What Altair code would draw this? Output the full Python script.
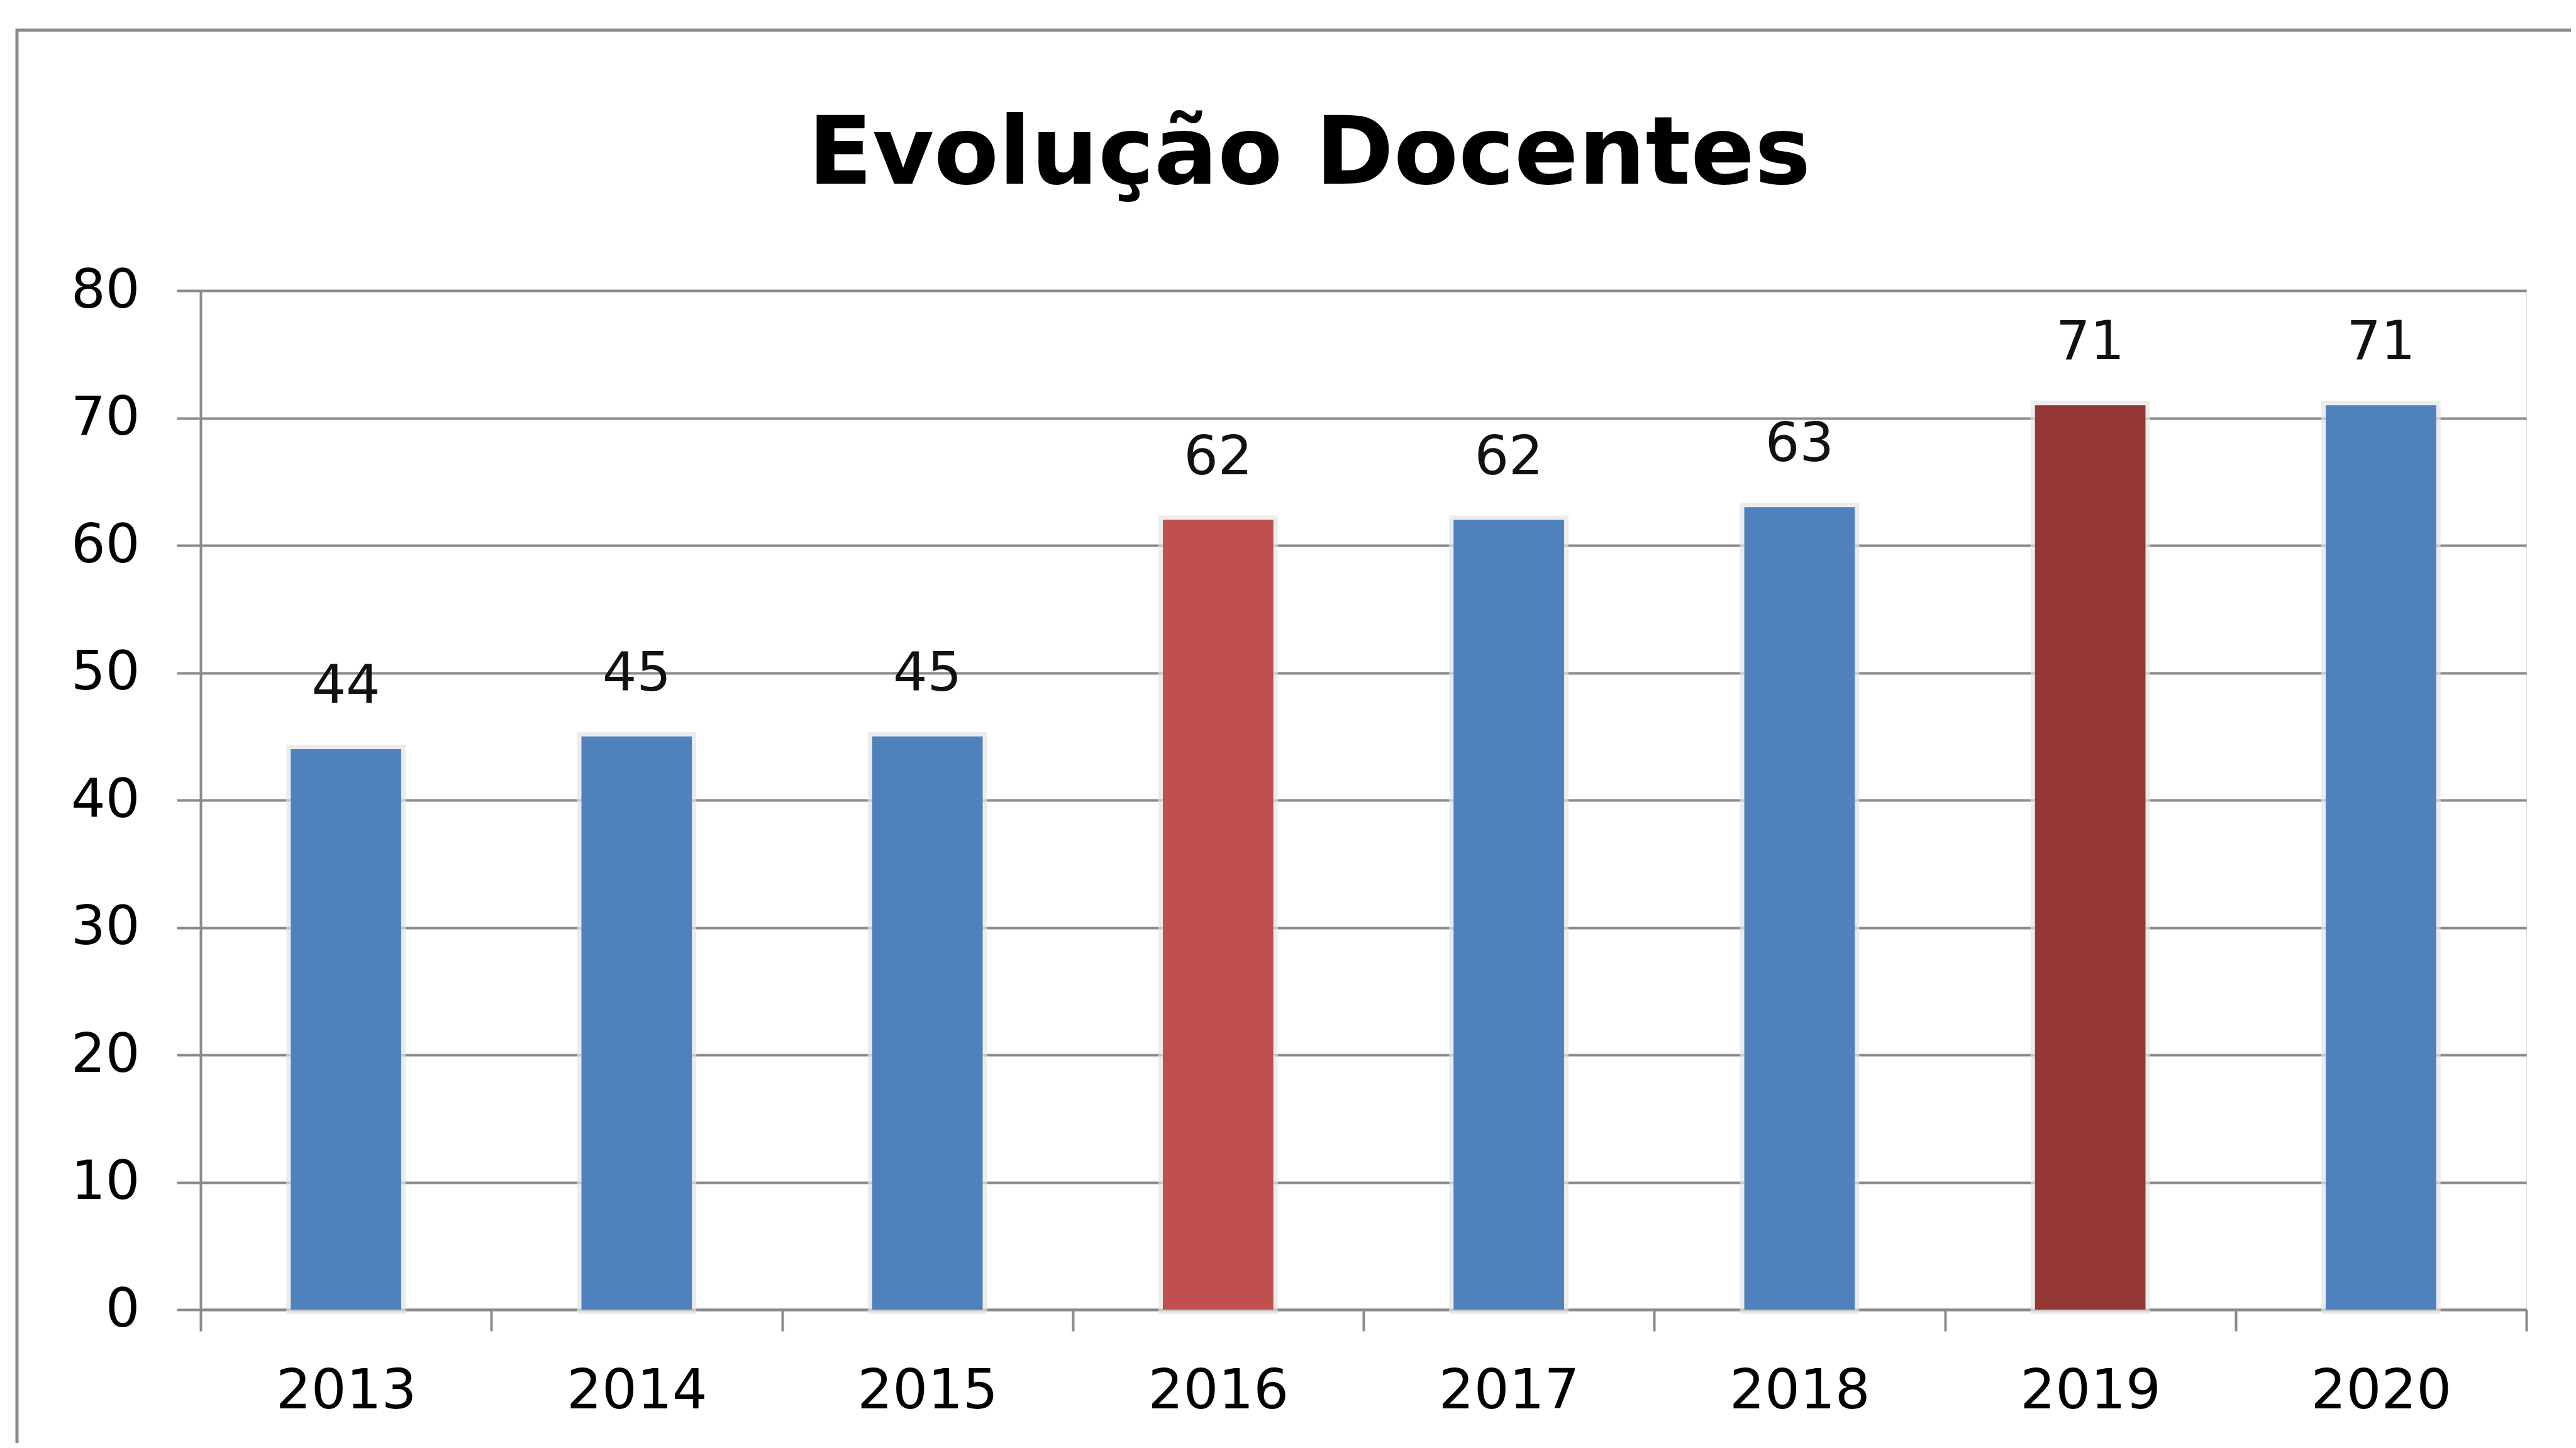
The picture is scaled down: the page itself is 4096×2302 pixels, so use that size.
import altair as alt
import pandas as pd

# ---- data ----
years = ["2013", "2014", "2015", "2016", "2017", "2018", "2019", "2020"]
values = [44, 45, 45, 62, 62, 63, 71, 71]
bar_colors = ["#4F81BD", "#4F81BD", "#4F81BD", "#C0504D",
              "#4F81BD", "#4F81BD", "#953735", "#4F81BD"]
y_ticks = [0, 10, 20, 30, 40, 50, 60, 70, 80]
title_text = "Evolução Docentes"

df = pd.DataFrame({"ano": years, "docentes": values, "cor": bar_colors})

W, H = 3698, 1620
GRAY = "#8a8a8a"
FONT = "DejaVu Sans"

x_enc = alt.X(
    "ano:N", sort=years, title=None,
    scale=alt.Scale(paddingInner=0, paddingOuter=0),
    axis=alt.Axis(labelAngle=0, labelFont=FONT, labelFontSize=88, labelColor="#000000",
                  labelLimit=0, labelPadding=52, tickBand="extent", tickSize=34, tickWidth=4,
                  tickColor=GRAY, domainColor=GRAY, domainWidth=4, grid=False),
)
y_enc = alt.Y(
    "docentes:Q", title=None,
    scale=alt.Scale(domain=[0, 80], nice=False),
    axis=alt.Axis(values=y_ticks, labelFont=FONT, labelFontSize=86, labelColor="#000000",
                  labelPadding=59, tickSize=38, tickWidth=4, tickColor=GRAY,
                  domainColor=GRAY, domainWidth=4, gridColor=GRAY, gridWidth=4),
)

base = alt.Chart(df)

shadow = base.mark_bar(width=alt.RelativeBandSize(0.38), fill="#d6d6d6", stroke="#e4e4e4",
                       strokeWidth=14, strokeOpacity=0.7).encode(x=x_enc, y=y_enc)
bars = base.mark_bar(width=alt.RelativeBandSize(0.38)).encode(
    x=x_enc, y=y_enc, color=alt.Color("cor:N", scale=None, legend=None)
)
labels = base.mark_text(baseline="alphabetic", dy=-73, font=FONT, fontSize=86, color="#111111").encode(
    x=x_enc, y=y_enc, text="docentes:Q"
)
frame = alt.Chart(pd.DataFrame({"k": [0]})).mark_rect(
    fillOpacity=0, stroke=GRAY, strokeWidth=5
).encode(
    x=alt.value(-292), x2=alt.value(5000), y=alt.value(-414), y2=alt.value(3000)
)

chart = alt.layer(frame, shadow, bars, labels).properties(
    width=W, height=H,
    title=alt.TitleParams(title_text, font=FONT, fontSize=150, fontWeight="bold",
                          color="#000000", anchor="middle", dx=-86,
                          baseline="alphabetic", offset=-396),
    autosize=alt.AutoSizeParams(type="none"),
    padding={"left": 311, "top": 454, "right": 71, "bottom": 212},
).configure_view(strokeWidth=0).configure(background="#ffffff")

chart.save("out.html", embed_options={"renderer": "svg", "actions": False})
